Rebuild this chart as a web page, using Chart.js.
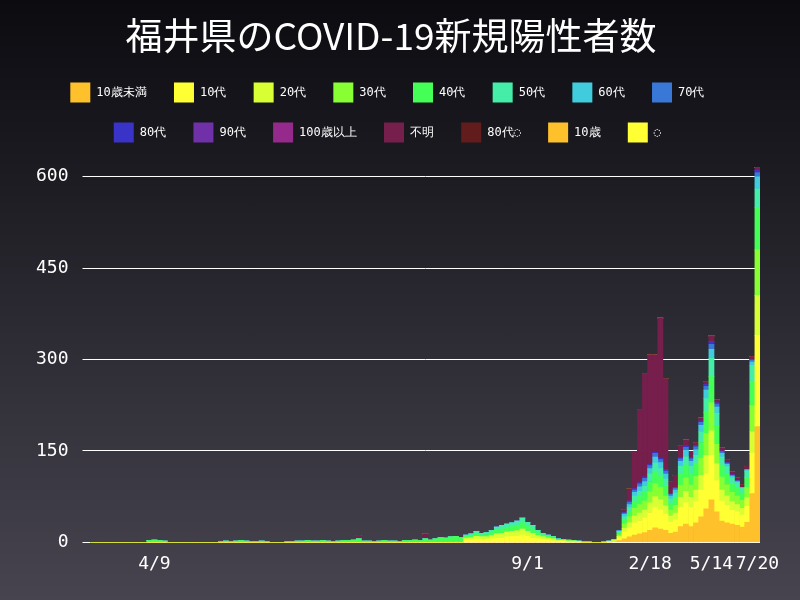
<!DOCTYPE html>
<html>
<head>
<meta charset="utf-8">
<script src="https://cdn.jsdelivr.net/npm/chart.js@4"></script>
<style>
  html, body { margin: 0; padding: 0; }
  body { width: 800px; height: 600px; background: linear-gradient(#0b0b10, #47444f); }
</style>
</head>
<body>
<canvas id="covidChart" width="800" height="600"></canvas>
<script>
// weekly bins (daily average), from mid-Jan 2020 to 7/20/2022
const weekCount = 131;
const tickLabels = { 12: "4/9", 85: "9/1", 109: "2/18", 121: "5/14", 130: "7/20" };

const legendNames = ["10歳未満", "10代", "20代", "30代", "40代", "50代", "60代", "70代",
  "80代", "90代", "100歳以上", "不明", "80代◌", "10歳", "◌"];
const colors = ["#ffc12b", "#ffff33", "#d8ff33", "#88ff33", "#44ff55", "#44eea8", "#40ccdd", "#3a78d8",
  "#3a33c8", "#7030a8", "#962a8c", "#761e4c", "#621c1c", "#ffc12b", "#ffff33"];

const zeros = n => Array(n).fill(0);

const under10 = zeros(102).concat([1,3,6,9,12,14,16,20,24,22,20,15,17,26,30,26,32,42,55,70,50,35,32,30,28,25,33,80,190]);
const teens = zeros(73).concat([4,4,5,5,5,6,8,8,9,10,10,12,10,8,6,5,4,3,2,2,1,1,1,0,0,0,0,0,1],
  [1,4,11,15,20,22,24,29,33,31,26,18,20,31,35,31,35,44,57,73,51,33,29,24,22,20,26,66,150]);
const twenties = zeros(73).concat([3,4,5,4,4,5,6,7,8,8,9,10,8,7,5,4,3,3,1,1,1,1,0,0,0,0,0,0,0],
  [1,3,6,8,11,12,13,16,18,17,14,10,11,17,19,17,19,24,31,40,28,18,16,13,12,11,14,36,65]);
const thirties = zeros(102).concat([1,3,7,10,13,14,15,18,21,20,17,11,13,20,22,20,22,28,36,46,32,21,18,15,14,13,17,42,75]);
const forties = [0,0,0,0,0,0,0,0,0,0,0, 3,4,3,2, 0,0,0,0,0,0,0,0,0,0,
  1,2,1,2,3,2,1,1,2,1, 0,0,0,1, 1,2,2,3,2,2,3,2,1,2, 3,3,4,6,
  2,2,1,2,3,2,2,1, 3,3,4,3,6,4, 6,8,7,9,10,8].concat(
  [3,3,5,3,4,5,6,7,7,8,9,10,8,7,5,3,3,2,2,1,1,1,1,1,1,0,0,1,1],
  [1,3,7,9,12,13,14,17,20,18,16,10,12,18,21,18,21,26,34,43,30,20,17,14,13,12,16,39,70]);
const fifties = zeros(73).concat([2,3,3,3,3,4,5,6,6,6,7,8,7,6,4,3,2,2,1,1,1,0,0,0,0,0,0,0,0],
  [0,2,5,6,8,9,10,12,14,13,11,7,8,13,14,13,14,18,23,30,21,13,12,10,9,8,11,27,30]);
const sixties = zeros(102).concat([0,1,4,5,6,7,8,9,10,10,8,5,5,8,10,8,9,10,14,15,10,6,4,3,2,1,2,6,20]);
const seventies = zeros(102).concat([0,1,2,4,4,5,5,5,6,5,5,3,3,4,5,4,5,5,6,8,5,3,2,1,1,0,1,3,7]);
const eighties = zeros(102).concat([0,0,1,2,2,2,2,2,2,2,2,1,1,2,2,2,2,2,3,4,2,1,1,1,0,0,0,1,3]);
const unknown = zeros(52).concat([5], zeros(12), [8], zeros(36),
  [0,0,5,20,60,120,170,180,160,230,150,20,20,20,10,10,5,5,5,10,5,5,5,5,5,5,5,5,5]);

const seriesValues = [under10, teens, twenties, thirties, forties, fifties, sixties, seventies,
  eighties, zeros(weekCount), zeros(weekCount), unknown, zeros(weekCount), zeros(weekCount), zeros(weekCount)];

const labels = [];
for (let i = 0; i < weekCount; i++) labels.push(tickLabels[i] || "");

const ctx = document.getElementById('covidChart').getContext('2d');

new Chart(ctx, {
  type: 'bar',
  data: {
    labels: labels,
    datasets: legendNames.map((name, i) => ({
      label: name,
      data: seriesValues[i],
      backgroundColor: colors[i],
      borderWidth: 0,
      barPercentage: 1,
      categoryPercentage: 1
    }))
  },
  options: {
    responsive: false,
    animation: false,
    layout: { padding: { left: 22, right: 40, bottom: 22, top: 14 } },
    plugins: {
      title: {
        display: true,
        text: "福井県のCOVID-19新規陽性者数",
        color: "#ffffff",
        font: { family: "Noto Sans CJK JP", size: 37, weight: 'normal' },
        padding: { top: 0, bottom: 4 }
      },
      legend: {
        labels: {
          color: "#ffffff",
          boxWidth: 20,
          boxHeight: 20,
          padding: 20,
          font: { family: "DejaVu Sans Mono", size: 12 },
          generateLabels: chart => Chart.defaults.plugins.legend.labels.generateLabels(chart)
            .map(item => Object.assign(item, { text: item.text + " " }))
        }
      },
      tooltip: { enabled: false }
    },
    scales: {
      x: {
        stacked: true,
        grid: { display: false },
        border: { display: false },
        ticks: {
          autoSkip: false,
          maxRotation: 0,
          color: "#ffffff",
          font: { family: "DejaVu Sans Mono", size: 18 }
        }
      },
      y: {
        stacked: true,
        min: 0,
        max: 640,
        afterBuildTicks: axis => { axis.ticks = [0, 150, 300, 450, 600].map(v => ({ value: v })); },
        grid: { color: "#ffffff", lineWidth: 1 },
        border: { display: false },
        ticks: {
          padding: 14,
          color: "#ffffff",
          font: { family: "DejaVu Sans Mono", size: 18 }
        }
      }
    }
  }
});
</script>
</body>
</html>
